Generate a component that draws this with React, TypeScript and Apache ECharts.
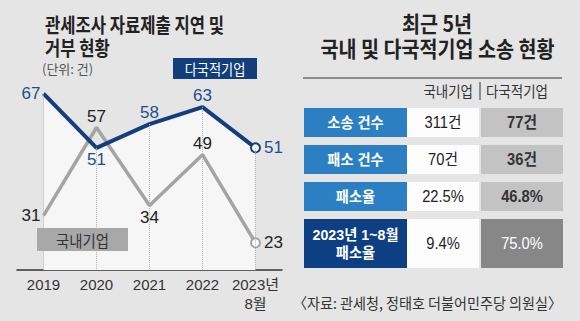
import React, { useEffect, useRef } from 'react';
import * as echarts from 'echarts';

const categories = ['2019', '2020', '2021', '2022', '2023년\n8월'];
const multinational = [67, 51, 58, 63, 51];
const domestic = [31, 57, 34, 49, 23];
const multiLabelPos = ['left', 'bottom', 'top', 'top', 'right'];
const domLabelPos = ['left', 'top', 'bottom', 'top', 'right'];

const tableHeaders = ['국내기업', '다국적기업'];
const tableRows = ['소송 건수', '패소 건수', '패소율', '2023년 1~8월\n패소율'];
const tableDomestic = ['311건', '70건', '22.5%', '9.4%'];
const tableMulti = ['77건', '36건', '46.8%', '75.0%'];

const Y_MIN = 15;
const Y_MAX = 71;
const NAVY = '#123f7c';
const GRAY = '#a4a4a4';
const NUM = '"Liberation Sans", Arial, "Noto Sans CJK KR", sans-serif';
const KR = '"Noto Sans CJK KR", "Noto Sans", sans-serif';

function txt(text: string, x: number, y: number, o: any = {}) {
  const size = o.size ?? 14;
  const weight = o.weight ?? 'normal';
  const family = o.family ?? KR;
  const align = o.align ?? 'center';
  return {
    type: 'text',
    x,
    y,
    scaleX: o.scaleX ?? 1,
    z: 100,
    style: {
      text,
      fill: o.fill ?? '#222',
      font: `${weight} ${size}px ${family}`,
      textAlign: align,
      align,
      textVerticalAlign: 'middle',
      verticalAlign: 'middle',
      lineHeight: o.lineHeight ?? size * 1.2,
    },
  };
}

function buildTable() {
  const els: any[] = [];
  const colX = [304, 407, 481];
  const colW = [103, 72, 82];
  let top = 108;
  tableRows.forEach((label, i) => {
    const last = i === tableRows.length - 1;
    const h = last ? 49 : 29;
    els.push({ type: 'rect', shape: { x: colX[0], y: top, width: colW[0], height: h }, style: { fill: last ? '#0e3f82' : '#2b7fc2' }, z: 90 });
    els.push({ type: 'rect', shape: { x: colX[1], y: top, width: colW[1], height: h }, style: { fill: '#fdfdfd' }, z: 90 });
    els.push({ type: 'rect', shape: { x: colX[2], y: top, width: colW[2], height: h }, style: { fill: last ? '#878787' : '#c3c3c3' }, z: 90 });
    const cy = top + h / 2;
    els.push(txt(label, colX[0] + colW[0] / 2, cy, { size: 15, weight: 'bold', fill: '#fff', family: NUM, lineHeight: 18, scaleX: 0.95 }));
    els.push(txt(tableDomestic[i], colX[1] + colW[1] / 2, cy, { size: 16, fill: '#222', family: NUM, scaleX: 0.92 }));
    els.push(txt(tableMulti[i], colX[2] + colW[2] / 2, cy, { size: 16, weight: last ? 'normal' : 'bold', fill: last ? '#fff' : '#333', family: NUM, scaleX: 0.92 }));
    top += h + 8;
  });
  return els;
}

const option: any = {
  animation: false,
  backgroundColor: '#e5e5e5',
  grid: { left: 17, right: 298, top: 80, bottom: 51, containLabel: false },
  xAxis: {
    type: 'category',
    data: categories,
    boundaryGap: true,
    axisLine: { show: true, lineStyle: { color: '#333', width: 1.5 } },
    axisTick: { show: false },
    splitLine: { show: false },
    axisLabel: { interval: 0, fontSize: 15, color: '#333', fontFamily: NUM, margin: 5, lineHeight: 19 },
  },
  yAxis: { type: 'value', min: Y_MIN, max: Y_MAX, show: false, splitLine: { show: false } },
  series: [
    {
      type: 'line',
      data: multinational,
      symbol: 'none',
      silent: true,
      lineStyle: { width: 0 },
      areaStyle: { color: '#f6f6f6', opacity: 1, origin: 'start' },
      z: 1,
      markLine: {
        silent: true,
        symbol: ['none', 'none'],
        label: { show: false },
        lineStyle: { type: 'dotted', color: '#b2b2b2', width: 1 },
        data: multinational.map((v, i) => [{ coord: [i, v] }, { coord: [i, Y_MIN] }]),
      },
    },
    {
      type: 'line',
      name: '국내기업',
      data: domestic.map((v, i) => ({ value: v, label: { position: domLabelPos[i] } })),
      symbol: 'circle',
      symbolSize: (_v: any, p: any) => (p.dataIndex === domestic.length - 1 ? 9 : 0),
      itemStyle: { color: '#fff', borderColor: GRAY, borderWidth: 2 },
      lineStyle: { color: GRAY, width: 3.5 },
      label: { show: true, fontSize: 17, color: '#222', fontFamily: NUM, distance: 3 },
      z: 3,
    },
    {
      type: 'line',
      name: '다국적기업',
      data: multinational.map((v, i) => ({ value: v, label: { position: multiLabelPos[i] } })),
      symbol: 'circle',
      symbolSize: (_v: any, p: any) => (p.dataIndex === multinational.length - 1 ? 9 : 0),
      itemStyle: { color: '#fff', borderColor: NAVY, borderWidth: 2 },
      lineStyle: { color: NAVY, width: 4 },
      label: { show: true, fontSize: 17, color: '#1d4f8c', fontFamily: NUM, distance: 3 },
      z: 4,
    },
  ],
  graphic: [
    txt('관세조사 자료제출 지연 및', 45, 24, { size: 20, weight: 'bold', align: 'left', scaleX: 0.83 }),
    txt('거부 현황', 45, 47, { size: 20, weight: 'bold', align: 'left', scaleX: 0.83 }),
    txt('(단위: 건)', 42, 68, { size: 13, align: 'left', fill: '#555' }),
    { type: 'rect', shape: { x: 173, y: 58, width: 84, height: 21 }, style: { fill: NAVY }, z: 95 },
    txt('다국적기업', 215, 68.5, { size: 15, fill: '#fff', scaleX: 0.88 }),
    { type: 'rect', shape: { x: 37, y: 228, width: 91, height: 23 }, style: { fill: '#a8a8a8' }, z: 95 },
    txt('국내기업', 82.5, 239.5, { size: 16, fill: '#333', scaleX: 0.9 }),
    txt('최근 5년', 437, 22.5, { size: 22, weight: 'bold', scaleX: 0.89 }),
    txt('국내 및 다국적기업 소송 현황', 437.5, 47, { size: 22, weight: 'bold', scaleX: 0.89 }),
    { type: 'line', shape: { x1: 303, y1: 78, x2: 562, y2: 78 }, style: { stroke: '#333', lineWidth: 1 }, z: 95 },
    { type: 'line', shape: { x1: 480, y1: 82, x2: 480, y2: 100 }, style: { stroke: '#333', lineWidth: 1 }, z: 95 },
    txt(tableHeaders[0], 473, 90, { size: 15, fill: '#333', align: 'right', scaleX: 0.9 }),
    txt(tableHeaders[1], 486, 90, { size: 15, fill: '#333', align: 'left', scaleX: 0.9 }),
    ...buildTable(),
    txt('〈자료: 관세청, 정태호 더불어민주당 의원실〉', 427.5, 302, { size: 15, fill: '#333', scaleX: 0.94 }),
  ],
};

export default function App() {
  const ref = useRef<HTMLDivElement>(null);
  useEffect(() => {
    const chart = echarts.init(ref.current!, null, { renderer: 'svg' });
    chart.setOption(option);
    return () => chart.dispose();
  }, []);
  return <div ref={ref} style={{ position: 'fixed', left: 0, top: 0, width: 580, height: 321 }} />;
}
